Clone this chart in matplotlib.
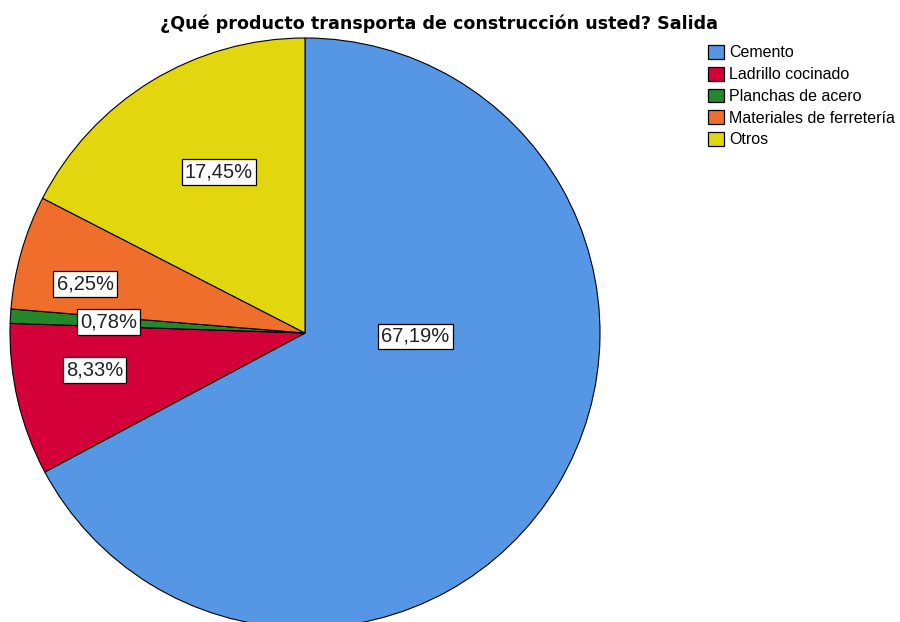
import matplotlib
matplotlib.use("Agg")
import matplotlib.pyplot as plt
from matplotlib.patches import Patch

categories = ["Cemento", "Ladrillo cocinado", "Planchas de acero", "Materiales de ferretería", "Otros"]
values = [67.19, 8.33, 0.78, 6.25, 17.45]
labels = ["67,19%", "8,33%", "0,78%", "6,25%", "17,45%"]
colors = ["#5596E5", "#D3003A", "#24882B", "#F06E2C", "#E2D60F"]
title = "¿Qué producto transporta de construcción usted? Salida"

# label anchor positions (pixels in figure)
label_pos = [(415.5, 336.5), (94.5, 370), (108.5, 322), (85, 284), (219, 172)]

plt.rcParams['font.family'] = ['Liberation Sans', 'DejaVu Sans']
fig = plt.figure(figsize=(9, 6.22), dpi=100)
ax = fig.add_axes([0, 0, 1, 1])

# y-axis inverted (pixel coords): startangle=-90 points up on screen,
# counterclock=True appears clockwise on screen
ax.pie(values, colors=colors, startangle=-90, counterclock=True,
       center=(305, 333), radius=295,
       wedgeprops=dict(edgecolor='black', linewidth=0.8), frame=True)
ax.set_xlim(0, 900)
ax.set_ylim(622, 0)
ax.axis('off')

for lab, (x, y) in zip(labels, label_pos):
    ax.text(x, y, lab, ha='center', va='center', fontsize=14.5, color='#222222',
            bbox=dict(boxstyle='square,pad=0.15', fc='white', ec='black', lw=0.9))

fig.text(160 / 900, 1 - 29 / 622, title, ha='left', va='baseline',
         fontsize=12.6, fontweight='bold', family='DejaVu Sans')

handles = [Patch(facecolor=c, edgecolor='black', linewidth=0.9) for c in colors]
fig.legend(handles, categories, loc='upper left', bbox_to_anchor=(708 / 900, 1 - 45 / 622),
           frameon=False, fontsize=11.5, handlelength=1.0, handleheight=0.95,
           handletextpad=0.3, labelspacing=0.4, borderaxespad=0, borderpad=0.0)

fig.savefig("out.png", dpi=100)
